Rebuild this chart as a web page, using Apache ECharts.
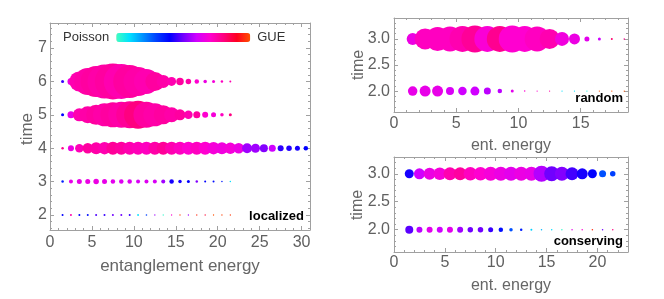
<!DOCTYPE html>
<html>
<head>
<meta charset="utf-8">
<script src="https://cdn.jsdelivr.net/npm/echarts@6/dist/echarts.min.js"></script>
<style>html,body{margin:0;padding:0;background:#fff}#c{width:664px;height:299px}</style>
</head>
<body>
<div id="c"></div>
<script>
// ---------------- data ----------------
// left panel ("localized"): bins of entanglement energy
const energyLoc = [1.5,2.5,3.5,4.5,5.5,6.5,7.5,8.5,9.5,10.5,11.5,12.5,13.5,14.5,15.5,16.5,17.5,18.5,19.5,20.5,21.5];
const energyLoc4 = [1.5,2.5,3.5,4.5,5.5,6.5,7.5,8.5,9.5,10.5,11.5,12.5,13.5,14.5,15.5,16.5,17.5,18.5,19.5,20.5,21.5,22.5,23.5,24.5,25.5,26.5,27.5,28.5,29.5,30.5];
// bubble magnitude and level-statistics value (0 = Poisson, 1 = GUE)
const loc6Size  = [3,7,20,27,31,34,36,35,33,29,25,19,13,9,7.5,5.5,4.5,3.5,3,2.5,2];
const loc6Stat  = [0.45,0.66,0.74,0.75,0.76,0.75,0.76,0.74,0.76,0.75,0.74,0.76,0.75,0.74,0.76,0.75,0.70,0.66,0.68,0.72,0.74];
const loc5Size  = [3,7,13,17,20,23,25,26,27,28,26,23,19,15,11,8.5,7,6,5,3.5,3];
const loc5Stat  = [0.40,0.65,0.74,0.75,0.76,0.75,0.76,0.75,0.77,0.80,0.76,0.75,0.76,0.75,0.76,0.74,0.76,0.70,0.68,0.72,0.80];
const loc4Size  = [2.5,6,8.5,10.5,12,12.5,13,13,13,13,13,13,13,13,13,13,13,13,12.5,12,11.5,10.5,10,9,8,7,6,5.5,5,4.5];
const loc4Stat  = [0.78,0.66,0.73,0.76,0.75,0.74,0.77,0.76,0.74,0.73,0.72,0.75,0.77,0.74,0.72,0.70,0.72,0.70,0.68,0.67,0.68,0.66,0.55,0.55,0.52,0.60,0.44,0.43,0.42,0.40];
const loc3Size  = [2.5,4,5,5,5.5,5,4.5,4.5,4.5,4,4,4,4,4.5,3.5,3,2.5,2,2,1.5,1.5];
const loc3Stat  = [0.35,0.65,0.65,0.66,0.66,0.65,0.64,0.63,0.63,0.62,0.63,0.62,0.55,0.42,0.42,0.40,0.52,0.40,0.38,0.36,0.10];
const loc2Size  = [2,2,2,2,2,2,2,2,2,1.8,1.6,1.3,1.3,1.3,1.3,1.3,1.3,1.3,1.3,1.3,1.3];
const loc2Stat  = [0.40,0.75,0.40,0.38,0.47,0.45,0.50,0.50,0.45,0.10,0.30,0.55,0.02,0.70,0.98,0.55,0.95,0.88,1.00,0.98,0.97];

// top right panel ("random")
const energyRnd = [1.5,2.5,3.5,4.5,5.5,6.5,7.5,8.5,9.5,10.5,11.5,12.5,13.5,14.5,15.5,16.5,17.5,18.5];
const rnd3Size  = [12,21,24,25,26,27,26,26,27,26,25,20,14,11,5,3,2,1.5];
const rnd3Stat  = [0.66,0.72,0.72,0.72,0.74,0.77,0.69,0.78,0.70,0.70,0.72,0.74,0.67,0.66,0.64,0.60,0.82,0.78];
const rnd2Size  = [9.5,11,11,8,8.5,9,7,4.5,3,1.5,1.3,1.3,1.3,1.3,1.3,1.3,1.3,1.3];
const rnd2Stat  = [0.65,0.65,0.65,0.62,0.60,0.60,0.58,0.58,0.64,0.70,0.70,0.75,0.10,0.10,0.05,1.00,1.00,1.00];

// bottom right panel ("conserving")
const energyCon = [1.5,2.5,3.5,4.5,5.5,6.5,7.5,8.5,9.5,10.5,11.5,12.5,13.5,14.5,15.5,16.5,17.5,18.5,19.5,20.5,21.5];
const con3Size  = [9,11,12,12.5,13,13,13.5,13.5,14,14,14,14,14,16,15,14,13,11,9,7,5.5];
const con3Stat  = [0.42,0.60,0.66,0.68,0.74,0.76,0.72,0.70,0.68,0.66,0.64,0.66,0.65,0.57,0.50,0.52,0.46,0.42,0.40,0.28,0.30];
const con2Size  = [8,6,6,6,6,6,5.5,5.5,5,4.5,3.5,2.5,2,1.5,1.5,1.5,1.5,1.5,1.5,1.5,1.5];
const con2Stat  = [0.48,0.58,0.64,0.60,0.64,0.55,0.50,0.50,0.45,0.38,0.28,0.35,0.12,0.15,0.10,0.02,0.65,0.70,0.95,0.50,0.80];

const colorScale = ['#40ffc0','#00e0ff','#0090ff','#0040ff','#0000ff','#7000ff','#d000ff','#ff00d0','#ff0080','#ff0020','#ff5000'];
const legendText = ['GUE', 'Poisson'];

// ---------------- chart ----------------
const FONT = 'Liberation Sans, Arial, Helvetica, sans-serif';
const FRAME = '#a0a0a0';
const LABEL = '#606060';

function frameAxes(dim, grid, o) {
  const pos = dim === 'x' ? ['bottom', 'top'] : ['left', 'right'];
  const base = { type: 'value', gridIndex: grid, min: o.min, max: o.max, splitLine: { show: false }, silent: true };
  const major = i => Object.assign({}, base, {
    position: pos[i], interval: o.interval, splitNumber: o.split,
    axisLine: { show: true, onZero: false, lineStyle: { color: FRAME, width: 1 } },
    axisTick: { show: true, inside: true, length: 4, lineStyle: { color: FRAME } },
    axisLabel: i === 0 ? { show: true, formatter: o.fmt, fontSize: o.fontSize, color: LABEL, margin: o.margin, fontFamily: FONT, showMinLabel: true, showMaxLabel: true } : { show: false }
  });
  const minor = i => Object.assign({}, base, {
    position: pos[i], interval: o.minorInterval, splitNumber: o.minorSplit,
    axisLine: { show: false, onZero: false },
    axisTick: { show: true, inside: true, length: 2, lineStyle: { color: FRAME } },
    axisLabel: { show: false }
  });
  return [major(0), major(1), minor(0), minor(1)];
}

const intFmt = v => (Math.abs(v - Math.round(v)) < 1e-6 ? String(Math.round(v)) : '');
const fiveFmt = v => (Math.abs(v / 5 - Math.round(v / 5)) < 1e-6 ? String(Math.round(v)) : '');
const halfFmt = v => (Math.abs(v * 2 - Math.round(v * 2)) < 1e-6 ? v.toFixed(1) : '');

const xAxes = [].concat(
  frameAxes('x', 0, { min: 0, max: 31, interval: 5, minorInterval: 1, fmt: fiveFmt, fontSize: 16, margin: 5 }),
  frameAxes('x', 1, { min: 0, max: 18.8, interval: 5, minorInterval: 1, fmt: fiveFmt, fontSize: 16, margin: 4 }),
  frameAxes('x', 2, { min: 0, max: 23, interval: 5, minorInterval: 1, fmt: fiveFmt, fontSize: 16, margin: 3 })
);
const yAxes = [].concat(
  frameAxes('y', 0, { min: 1.55, max: 7.75, split: 6, minorSplit: 31, fmt: intFmt, fontSize: 16, margin: 3 }),
  frameAxes('y', 1, { min: 1.6, max: 3.4, split: 4, minorSplit: 18, fmt: halfFmt, fontSize: 16, margin: 4 }),
  frameAxes('y', 2, { min: 1.6, max: 3.3, split: 4, minorSplit: 17, fmt: halfFmt, fontSize: 16, margin: 4 })
);

function row(energies, time, stat, size) {
  return energies.map((e, i) => [e, time, stat[i], size[i]]);
}
function bubbles(grid, data) {
  return {
    type: 'scatter', xAxisIndex: grid * 4, yAxisIndex: grid * 4, data: data,
    symbol: 'circle', symbolSize: v => v[3], silent: true, animation: false,
    itemStyle: { opacity: 1 }, emphasis: { disabled: true }
  };
}

const series = [
  bubbles(0, row(energyLoc, 2, loc2Stat, loc2Size)),
  bubbles(0, row(energyLoc, 3, loc3Stat, loc3Size)),
  bubbles(0, row(energyLoc4, 4, loc4Stat, loc4Size)),
  bubbles(0, row(energyLoc, 5, loc5Stat, loc5Size)),
  bubbles(0, row(energyLoc, 6, loc6Stat, loc6Size)),
  bubbles(1, row(energyRnd, 2, rnd2Stat, rnd2Size)),
  bubbles(1, row(energyRnd, 3, rnd3Stat, rnd3Size)),
  bubbles(2, row(energyCon, 2, con2Stat, con2Size)),
  bubbles(2, row(energyCon, 3, con3Stat, con3Size))
];

function label(text, x, y, size, opts) {
  return Object.assign({
    type: 'text', x: x, y: y, silent: true,
    style: Object.assign({ text: text, fontSize: size, fontFamily: FONT, fill: '#666', align: 'center', verticalAlign: 'middle' }, (opts && opts.style) || {})
  }, (opts && opts.el) || {});
}

const chart = echarts.init(document.getElementById('c'), null, { renderer: 'canvas' });
chart.setOption({
  animation: false,
  backgroundColor: '#fff',
  textStyle: { fontFamily: FONT },
  grid: [
    { left: 50, top: 23, width: 260, height: 207, containLabel: false },
    { left: 394, top: 18, width: 234, height: 94, containLabel: false },
    { left: 394, top: 157, width: 234, height: 95, containLabel: false }
  ],
  xAxis: xAxes,
  yAxis: yAxes,
  visualMap: {
    type: 'continuous', min: 0, max: 1, dimension: 2,
    seriesIndex: series.map((s, i) => i),
    orient: 'horizontal', left: 48, top: 16,
    itemWidth: 9, itemHeight: 134, textGap: 7,
    text: legendText, calculable: false, hoverLink: false, realtime: false,
    textStyle: { fontSize: 13, color: '#333', fontFamily: FONT },
    inRange: { color: colorScale }
  },
  series: series,
  graphic: [
    label('time', 27, 129, 17, { el: { rotation: Math.PI / 2 } }),
    label('entanglement energy', 180, 266, 17),
    label('time', 359, 65, 16, { el: { rotation: Math.PI / 2 } }),
    label('ent. energy', 511, 146, 16),
    label('time', 358, 205, 16, { el: { rotation: Math.PI / 2 } }),
    label('ent. energy', 511, 286, 16),
    label('localized', 304, 216, 13, { style: { fill: '#000', fontWeight: 'bold', align: 'right' } }),
    label('random', 623, 98, 13, { style: { fill: '#000', fontWeight: 'bold', align: 'right' } }),
    label('conserving', 623, 241, 13, { style: { fill: '#000', fontWeight: 'bold', align: 'right' } })
  ]
});
</script>
</body>
</html>
